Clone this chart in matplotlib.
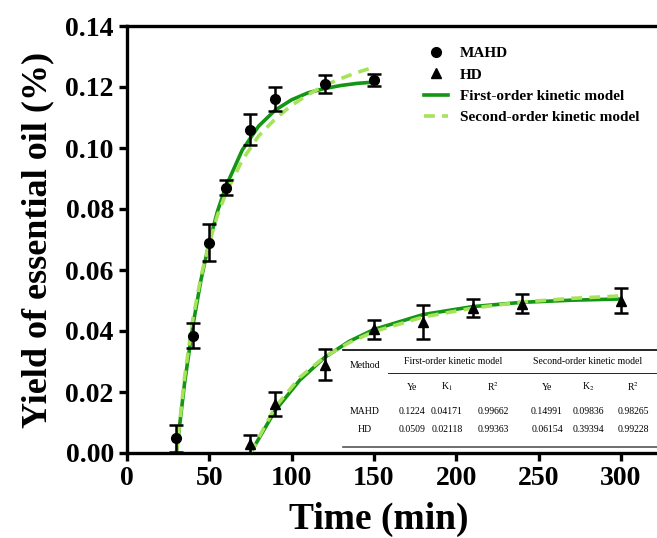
import matplotlib.pyplot as plt

plt.rcParams['font.family'] = ['Liberation Serif', 'DejaVu Serif']
plt.rcParams['mathtext.fontset'] = 'stix'

# measured points
t_mahd = [30, 40, 50, 60, 75, 90, 120, 150]
y_mahd = [0.0048, 0.0385, 0.0690, 0.0870, 0.1060, 0.1160, 0.1210, 0.1222]
e_mahd = [0.0045, 0.0040, 0.0060, 0.0025, 0.0050, 0.0040, 0.0030, 0.0020]

t_hd = [75, 90, 120, 150, 180, 210, 240, 300]
y_hd = [0.0030, 0.0160, 0.0290, 0.0405, 0.0430, 0.0475, 0.0490, 0.0500]
e_hd = [0.0030, 0.0040, 0.0050, 0.0030, 0.0055, 0.0030, 0.0030, 0.0040]

# model curves
tc_mahd = [30, 35, 40, 45, 50, 55, 60, 70, 80, 90, 100, 110, 120, 130, 140, 150]
fo_mahd = [0.0, 0.0230, 0.0417, 0.0569, 0.0692, 0.0793, 0.0873, 0.0993, 0.1072,
           0.1124, 0.1158, 0.1181, 0.1195, 0.1205, 0.1212, 0.1216]
so_mahd = [0.0, 0.0250, 0.0440, 0.0580, 0.0690, 0.0780, 0.0850, 0.0960, 0.1040,
           0.1095, 0.1140, 0.1175, 0.1205, 0.1228, 0.1248, 0.1265]

tc_hd = [75, 90, 105, 120, 135, 150, 180, 210, 240, 270, 300]
fo_hd = [0.0, 0.0139, 0.0239, 0.0313, 0.0366, 0.0405, 0.0454, 0.0480, 0.0494, 0.0501, 0.0505]
so_hd = [0.0, 0.0150, 0.0248, 0.0315, 0.0362, 0.0398, 0.0446, 0.0475, 0.0495, 0.0507, 0.0515]

# table contents
tbl_head = ['Ye', 'K$_1$', 'R$^2$', 'Ye', 'K$_2$', 'R$^2$']
tbl_rows = [['MAHD', '0.1224', '0.04171', '0.99662', '0.14991', '0.09836', '0.98265'],
            ['HD', '0.0509', '0.02118', '0.99363', '0.06154', '0.39394', '0.99228']]

W, H = 657, 538
fig = plt.figure(figsize=(W / 100, H / 100), dpi=100)
ax = fig.add_axes([127 / W, (H - 453) / H, (W - 127) / W, (453 - 26) / H])

dark = '#139613'
light = '#a6e35a'

ax.plot(tc_mahd, fo_mahd, color=dark, lw=2.6, zorder=3)
ax.plot(tc_hd, fo_hd, color=dark, lw=2.6, zorder=3)
ax.plot(tc_mahd, so_mahd, color=light, lw=2.6, ls=(0, (3, 2)), zorder=4)
ax.plot(tc_hd, so_hd, color=light, lw=2.6, ls=(0, (3, 2)), zorder=4)

ax.errorbar(t_mahd, y_mahd, yerr=e_mahd, fmt='o', color='black', ms=7,
            capsize=5, elinewidth=1.8, capthick=1.8, zorder=5)
ax.errorbar(t_hd, y_hd, yerr=e_hd, fmt='^', color='black', ms=7,
            capsize=5, elinewidth=1.8, capthick=1.8, zorder=5)

ax.set_xlim(0, (W - 127) / 1.646)
ax.set_ylim(0, 0.14)
ax.set_xticks([0, 50, 100, 150, 200, 250, 300])
ax.set_yticks([0.0, 0.02, 0.04, 0.06, 0.08, 0.10, 0.12, 0.14])
ax.set_yticklabels(['%.2f' % v for v in ax.get_yticks()])
ax.spines['right'].set_visible(False)
for s in ['left', 'bottom', 'top']:
    ax.spines[s].set_linewidth(2.4)
ax.tick_params(direction='out', length=6, width=2.4, labelsize=20, top=False, right=False)
for lab in ax.get_xticklabels() + ax.get_yticklabels():
    lab.set_fontweight('bold')

ax.set_xlabel('Time (min)', fontsize=27, fontweight='bold')
ax.xaxis.set_label_coords(0.475, -0.115)
ax.set_ylabel('Yield of essential oil (%)', fontsize=26, fontweight='bold', labelpad=8)

# legend
h1 = plt.Line2D([], [], marker='o', ls='none', color='black', ms=7)
h2 = plt.Line2D([], [], marker='^', ls='none', color='black', ms=7)
h3 = plt.Line2D([], [], color=dark, lw=2.6)
h4 = plt.Line2D([], [], color=light, lw=2.6, ls=(0, (3, 2)))
leg = ax.legend([h1, h2, h3, h4],
                ['MAHD', 'HD', 'First-order kinetic model', 'Second-order kinetic model'],
                loc='upper left', bbox_to_anchor=(410 / W, 1 - 33 / H),
                bbox_transform=fig.transFigure, frameon=False,
                prop={'weight': 'bold', 'size': 11}, handlelength=1.6,
                handletextpad=0.75, labelspacing=0.5)

# kinetic parameter table
def fx(px):
    return px / W


def fy(py):
    return 1 - py / H


fs = 7
fig.add_artist(plt.Line2D([fx(343), fx(657)], [fy(350), fy(350)], color='black', lw=1.2))
fig.add_artist(plt.Line2D([fx(388), fx(657)], [fy(373), fy(373)], color='black', lw=0.6))
fig.add_artist(plt.Line2D([fx(343), fx(657)], [fy(446.5), fy(446.5)], color='#555555', lw=1.2))
fig.text(fx(365), fy(366), 'Method', fontsize=fs, ha='center', va='center')
fig.text(fx(453), fy(362), 'First-order kinetic model', fontsize=fs, ha='center', va='center')
fig.text(fx(588), fy(362), 'Second-order kinetic model', fontsize=fs, ha='center', va='center')
col_x = [365, 412, 447, 493, 547, 588, 633]
for i, h in enumerate(tbl_head):
    fig.text(fx(col_x[i + 1]), fy(387), h, fontsize=fs, ha='center', va='center')
for r, row in enumerate(tbl_rows):
    for i, v in enumerate(row):
        fig.text(fx(col_x[i]), fy(411 + 19 * r), v, fontsize=fs, ha='center', va='center')

fig.savefig('out.png', dpi=100)
